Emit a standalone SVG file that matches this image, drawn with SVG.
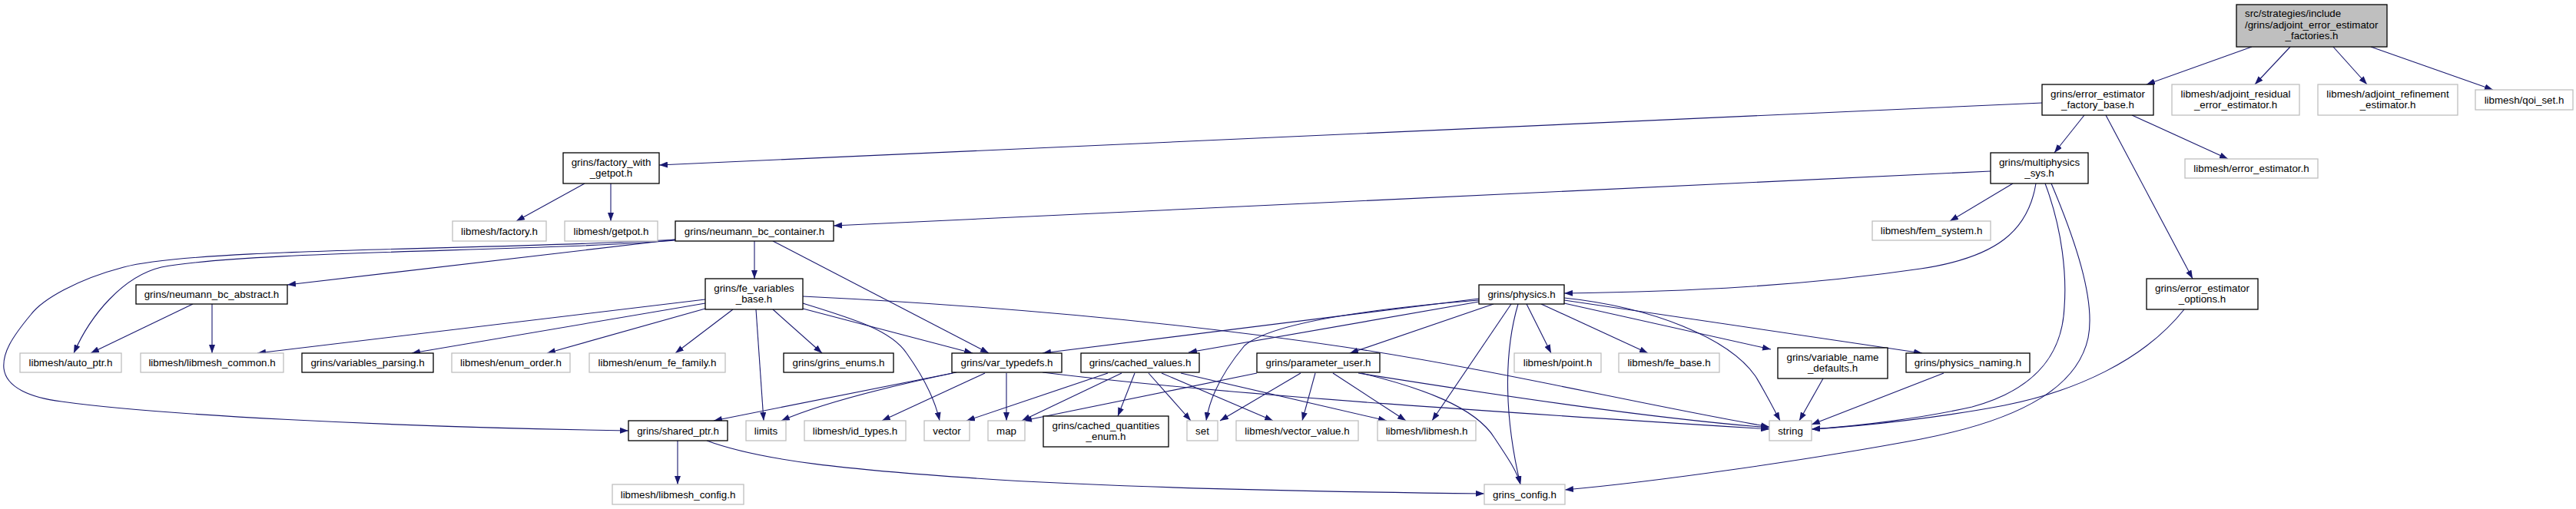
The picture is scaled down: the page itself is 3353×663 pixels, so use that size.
<svg xmlns="http://www.w3.org/2000/svg" width="3353" height="663" viewBox="0 0 3353 663">
<defs>
<marker id="ah" markerWidth="11" markerHeight="8" refX="11" refY="4" orient="auto" markerUnits="userSpaceOnUse"><path d="M0,0 L11,4 L0,8 z" fill="#191970"/></marker>
<style>
.b{fill:#fff;stroke:#000;stroke-width:1.3}
.g{fill:#fff;stroke:#bfbfbf;stroke-width:1.3}
.r{fill:#bfbfbf;stroke:#000;stroke-width:1.3}
text{font-family:"Liberation Sans",Arial,sans-serif;font-size:13.33px;fill:#000;text-anchor:middle}
text.l{text-anchor:start}
#edges path{fill:none;stroke:#191970;stroke-width:1.1;marker-end:url(#ah)}
</style>
</defs>
<rect width="3353" height="663" fill="#fff"/>
<g id="edges">
<path d="M2931,61 L2794,110"/>
<path d="M2981,61 L2935,110"/>
<path d="M3037,61 L3081,110"/>
<path d="M3086,61 L3245,117"/>
<path d="M2658,134 L858,215"/>
<path d="M2713,150 L2674,199"/>
<path d="M2775,150 L2900,207"/>
<path d="M2741,150 L2854,363"/>
<path d="M2591,223 L1085,294"/>
<path d="M2620,239 L2538,288"/>
<path d="M2650,239 C2640,300 2600,335 2500,350 C2350,372 2200,380 2036,382"/>
<path d="M2662,239 C2685,300 2690,360 2687,400 C2684,470 2640,510 2567,530 C2500,545 2420,555 2358,559"/>
<path d="M2670,239 C2700,310 2728,390 2718,440 C2705,500 2640,545 2500,572 C2350,600 2150,628 2037,638"/>
<path d="M2843,403 C2790,470 2700,510 2609,528 C2530,543 2430,555 2358,559"/>
<path d="M761,239 L672,288"/>
<path d="M795,239 L795,288"/>
<path d="M879,312 L374,371"/>
<path d="M879,313 C700,328 330,326 210,348 C160,360 118,410 96,460"/>
<path d="M879,312 C650,326 260,322 161,348 C100,364 55,390 40,410 C15,440 3,460 5,480 C8,505 40,518 80,523 C200,540 500,556 818,561"/>
<path d="M982,314 L982,363"/>
<path d="M1006,314 L1287,460"/>
<path d="M251,396 L118,460"/>
<path d="M276,396 L276,460"/>
<path d="M918,390 L335,460"/>
<path d="M918,395 L536,460"/>
<path d="M918,402 L712,460"/>
<path d="M954,403 L879,460"/>
<path d="M984,403 L994,548"/>
<path d="M1006,403 L1070,460"/>
<path d="M1045,395 C1110,415 1160,430 1180,460 C1205,495 1218,525 1223,548"/>
<path d="M1045,402 L1266,460"/>
<path d="M1045,386 C1250,396 1500,415 1750,452 C1950,482 2150,530 2303,556"/>
<path d="M1245,485 L929,548"/>
<path d="M1240,486 C1150,505 1070,525 1017,548"/>
<path d="M1282,486 L1148,548"/>
<path d="M1310,486 L1310,548"/>
<path d="M1357,485 C1600,515 2000,540 2303,559"/>
<path d="M1442,486 L1258,548"/>
<path d="M1460,486 L1330,548"/>
<path d="M1477,486 L1455,542"/>
<path d="M1495,486 L1550,548"/>
<path d="M1512,486 L1657,548"/>
<path d="M1537,486 L1805,548"/>
<path d="M1636,486 L1332,548"/>
<path d="M1693,486 L1588,548"/>
<path d="M1712,486 L1695,548"/>
<path d="M1735,486 L1830,548"/>
<path d="M1768,486 C1950,515 2150,545 2303,557"/>
<path d="M1772,486 C1850,505 1920,530 1945,570 C1965,600 1975,615 1979,631"/>
<path d="M1925,389 L1357,460"/>
<path d="M1925,393 L1547,459"/>
<path d="M1925,391 C1750,405 1650,425 1620,450 C1595,480 1575,515 1570,548"/>
<path d="M1944,396 L1757,460"/>
<path d="M1967,396 L1864,548"/>
<path d="M1976,396 C1960,450 1955,530 1979,631"/>
<path d="M1987,396 L2019,460"/>
<path d="M2006,396 L2145,460"/>
<path d="M2036,395 L2305,455"/>
<path d="M2036,391 L2502,460"/>
<path d="M2036,388 C2150,400 2250,440 2285,490 C2300,515 2310,535 2317,548"/>
<path d="M2373,493 L2342,548"/>
<path d="M2530,486 L2358,553"/>
<path d="M882,574 L882,631"/>
<path d="M920,574 C990,600 1100,612 1300,625 C1500,637 1750,641 1932,643"/>
</g>
<g id="n_root"><rect class="r" x="2911" y="6" width="196" height="55"/><text class="l" x="2922" y="22">src/strategies/include</text><text class="l" x="2922" y="37">/grins/adjoint_error_estimator</text><text x="3009" y="51">_factories.h</text></g>
<g id="n_efb"><rect class="b" x="2658" y="110" width="145" height="40"/><text x="2730.5" y="126.5">grins/error_estimator</text><text x="2730.5" y="141">_factory_base.h</text></g>
<g id="n_ares"><rect class="g" x="2827" y="110" width="166" height="40"/><text x="2910" y="126.5">libmesh/adjoint_residual</text><text x="2910" y="141">_error_estimator.h</text></g>
<g id="n_aref"><rect class="g" x="3017" y="110" width="182" height="40"/><text x="3108" y="126.5">libmesh/adjoint_refinement</text><text x="3108" y="141">_estimator.h</text></g>
<g id="n_qoi"><rect class="g" x="3222" y="117" width="127" height="26"/><text x="3285.5" y="134.5">libmesh/qoi_set.h</text></g>
<g id="n_fwg"><rect class="b" x="733" y="199" width="125" height="40"/><text x="795.5" y="215.5">grins/factory_with</text><text x="795.5" y="230">_getpot.h</text></g>
<g id="n_mps"><rect class="b" x="2591" y="199" width="127" height="40"/><text x="2654.5" y="215.5">grins/multiphysics</text><text x="2654.5" y="230">_sys.h</text></g>
<g id="n_ee"><rect class="g" x="2844" y="207" width="173" height="25"/><text x="2930.5" y="224">libmesh/error_estimator.h</text></g>
<g id="n_fac"><rect class="g" x="589" y="288" width="122" height="26"/><text x="650" y="305.5">libmesh/factory.h</text></g>
<g id="n_get"><rect class="g" x="735" y="288" width="121" height="26"/><text x="795.5" y="305.5">libmesh/getpot.h</text></g>
<g id="n_nbc"><rect class="b" x="879" y="288" width="206" height="26"/><text x="982" y="305.5">grins/neumann_bc_container.h</text></g>
<g id="n_fem"><rect class="g" x="2437" y="288" width="154" height="25"/><text x="2514" y="305">libmesh/fem_system.h</text></g>
<g id="n_nba"><rect class="b" x="177" y="371" width="197" height="25"/><text x="275.5" y="388">grins/neumann_bc_abstract.h</text></g>
<g id="n_phy"><rect class="b" x="1925" y="371" width="111" height="25"/><text x="1980.5" y="388">grins/physics.h</text></g>
<g id="n_fvb"><rect class="b" x="918" y="363" width="127" height="40"/><text x="981.5" y="379.5">grins/fe_variables</text><text x="981.5" y="394">_base.h</text></g>
<g id="n_eeo"><rect class="b" x="2794" y="363" width="145" height="40"/><text x="2866.5" y="379.5">grins/error_estimator</text><text x="2866.5" y="394">_options.h</text></g>
<g id="n_aut"><rect class="g" x="26" y="460" width="132" height="25"/><text x="92" y="477">libmesh/auto_ptr.h</text></g>
<g id="n_com"><rect class="g" x="183" y="460" width="186" height="25"/><text x="276" y="477">libmesh/libmesh_common.h</text></g>
<g id="n_vpa"><rect class="b" x="393" y="460" width="171" height="25"/><text x="478.5" y="477">grins/variables_parsing.h</text></g>
<g id="n_eor"><rect class="g" x="588" y="460" width="154" height="25"/><text x="665" y="477">libmesh/enum_order.h</text></g>
<g id="n_eff"><rect class="g" x="767" y="460" width="177" height="25"/><text x="855.5" y="477">libmesh/enum_fe_family.h</text></g>
<g id="n_gen"><rect class="b" x="1020" y="460" width="143" height="25"/><text x="1091.5" y="477">grins/grins_enums.h</text></g>
<g id="n_vty"><rect class="b" x="1239" y="460" width="143" height="25"/><text x="1310.5" y="477">grins/var_typedefs.h</text></g>
<g id="n_cvs"><rect class="b" x="1407" y="460" width="154" height="25"/><text x="1484" y="477">grins/cached_values.h</text></g>
<g id="n_pus"><rect class="b" x="1636" y="460" width="160" height="25"/><text x="1716" y="477">grins/parameter_user.h</text></g>
<g id="n_pt"><rect class="g" x="1971" y="460" width="113" height="25"/><text x="2027.5" y="477">libmesh/point.h</text></g>
<g id="n_feb"><rect class="g" x="2107" y="460" width="131" height="25"/><text x="2172.5" y="477">libmesh/fe_base.h</text></g>
<g id="n_vnd"><rect class="b" x="2314" y="453" width="143" height="40"/><text x="2385.5" y="469.5">grins/variable_name</text><text x="2385.5" y="484">_defaults.h</text></g>
<g id="n_pnm"><rect class="b" x="2481" y="460" width="161" height="25"/><text x="2561.5" y="477">grins/physics_naming.h</text></g>
<g id="n_shp"><rect class="b" x="818" y="548" width="129" height="26"/><text x="882.5" y="565.5">grins/shared_ptr.h</text></g>
<g id="n_lim"><rect class="g" x="971" y="548" width="52" height="26"/><text x="997" y="565.5">limits</text></g>
<g id="n_idt"><rect class="g" x="1047" y="548" width="132" height="26"/><text x="1113" y="565.5">libmesh/id_types.h</text></g>
<g id="n_vec"><rect class="g" x="1203" y="548" width="59" height="26"/><text x="1232.5" y="565.5">vector</text></g>
<g id="n_map"><rect class="g" x="1286" y="548" width="48" height="26"/><text x="1310" y="565.5">map</text></g>
<g id="n_cqe"><rect class="b" x="1358" y="542" width="163" height="40"/><text x="1439.5" y="558.5">grins/cached_quantities</text><text x="1439.5" y="573">_enum.h</text></g>
<g id="n_set"><rect class="g" x="1545" y="548" width="40" height="26"/><text x="1565" y="565.5">set</text></g>
<g id="n_vv"><rect class="g" x="1609" y="548" width="159" height="26"/><text x="1688.5" y="565.5">libmesh/vector_value.h</text></g>
<g id="n_lm"><rect class="g" x="1793" y="548" width="128" height="26"/><text x="1857" y="565.5">libmesh/libmesh.h</text></g>
<g id="n_str"><rect class="g" x="2303" y="548" width="55" height="26"/><text x="2330.5" y="565.5">string</text></g>
<g id="n_lmc"><rect class="g" x="797" y="631" width="171" height="26"/><text x="882.5" y="648.5">libmesh/libmesh_config.h</text></g>
<g id="n_gc"><rect class="g" x="1932" y="631" width="105" height="26"/><text x="1984.5" y="648.5">grins_config.h</text></g>
</svg>
